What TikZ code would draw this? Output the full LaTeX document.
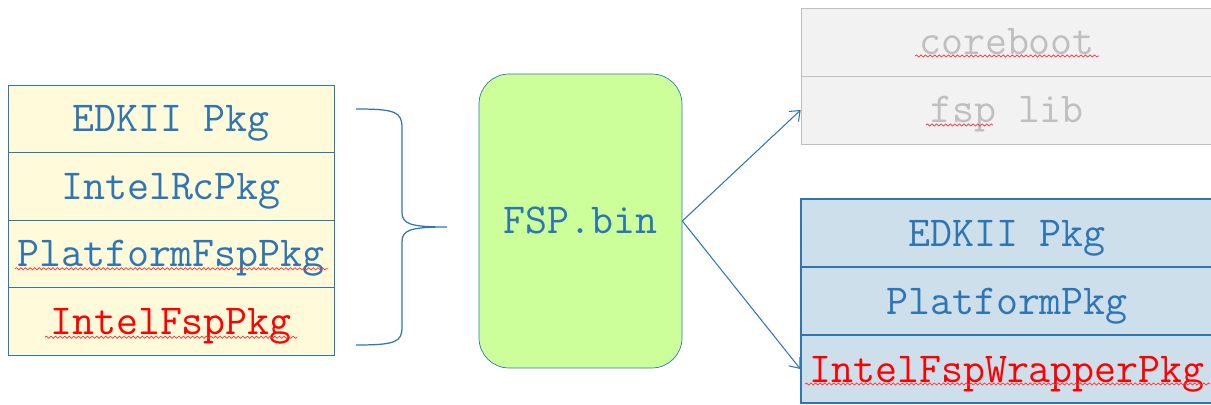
\documentclass[tikz,border=0pt]{standalone}
\usetikzlibrary{decorations.pathmorphing,arrows.meta}

\definecolor{pkgblau}{RGB}{46,117,182}
\definecolor{pkgrot}{RGB}{255,0,0}
\definecolor{gelbfill}{RGB}{255,250,218}
\definecolor{gruenfill}{RGB}{204,255,153}
\definecolor{blaufill}{RGB}{206,223,236}
\definecolor{graufill}{RGB}{242,242,242}
\definecolor{graurand}{RGB}{191,191,191}

\tikzset{
  pkgtext/.style={font=\ttfamily\fontsize{24.3}{28}\selectfont, text height=14.8pt, text depth=0pt},
  zelle/.style={pkgtext, draw=pkgblau, fill=gelbfill, text=pkgblau, inner sep=0pt,
    minimum width=6.52cm, minimum height=1.35cm},
  rzelle/.style={zelle, fill=blaufill, line width=0.8pt, minimum width=8.24cm, minimum height=1.36cm},
  gzelle/.style={zelle, draw=graurand, fill=graufill, text=graurand, minimum width=8.24cm, minimum height=1.36cm},
  wellig/.style={pkgrot!80, line width=0.4pt, decorate,
    decoration={snake, amplitude=0.6pt, segment length=2.6pt}},
}

\begin{document}
\begin{tikzpicture}[x=0.02cm, y=-0.02cm, >={Straight Barb[length=5pt,width=8pt]}]
    \useasboundingbox (0,0) rectangle (1211,405);

    % linker Stapel
    \node[zelle] (edkl) at (171,118.75) {EDKII Pkg};
    \node[zelle] (intelrc) at (171,186.25) {IntelRcPkg};
    \node[zelle] (platfsp) at (171,253.75) {PlatformFspPkg};
    \node[zelle, text=pkgrot] (intelfsp) at (171,321.25) {IntelFspPkg};

    % Klammer
    \draw[pkgblau, line width=0.7pt] (356,109) .. controls (396,109) and (402,112) .. (402,128)
        -- (402,212) .. controls (402,224) and (410,227) .. (447,227)
        .. controls (410,227) and (402,230) .. (402,242)
        -- (402,327) .. controls (402,342) and (396,345) .. (356,345);

    % FSP.bin
    \node[pkgtext, draw=pkgblau, fill=gruenfill, text=pkgblau, rounded corners=0.6cm,
        minimum width=4.06cm, minimum height=5.88cm] (fspbin) at (580.5,221) {FSP.bin};

    % rechts oben (grau)
    \node[gzelle] (coreboot) at (1007,42) {coreboot};
    \node[gzelle] (fsplib) at (1007,110) {fsp lib};

    % rechts unten (blau)
    \node[rzelle] (edkr) at (1007,233) {EDKII Pkg};
    \node[rzelle] (platform) at (1007,301) {PlatformPkg};
    \node[rzelle, text=pkgrot] (wrapper) at (1007,369) {IntelFspWrapperPkg};

    % Pfeile
    \draw[->, pkgblau, line width=0.6pt] (fspbin.east) -- (fsplib.west);
    \draw[->, pkgblau, line width=0.6pt] (fspbin.east) -- (wrapper.west);

    % Rechtschreib-Wellen
    \draw[wellig] (platfsp.center) ++(-156,15) -- ++(313,0);
    \draw[wellig] (intelfsp.center) ++(-126,16) -- ++(252,0);
    \draw[wellig] (coreboot.center) ++(-92,14) -- ++(184,0);
    \draw[wellig] (fsplib.center) ++(-81,15) -- ++(67,0);
    \draw[wellig] (wrapper.center) ++(-202,15) -- ++(405,0);
\end{tikzpicture}
\end{document}
